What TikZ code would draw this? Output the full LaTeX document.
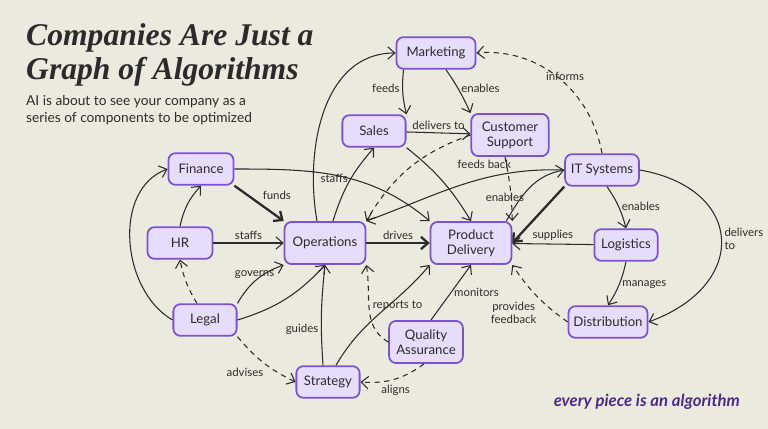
\documentclass[tikz,border=0pt]{standalone}
\usepackage{fontspec}
\setmainfont{Lato}
\newfontfamily\titlefont{Liberation Serif}
\usetikzlibrary{arrows.meta, positioning}
\definecolor{bg}{HTML}{EBEADF}
\definecolor{boxfill}{HTML}{E6DDFD}
\definecolor{boxline}{HTML}{7A52D4}
\definecolor{ink}{HTML}{2B2B2B}
\definecolor{tagline}{HTML}{4A2A8C}
\tikzset{%
	unit/.style={draw=boxline, fill=boxfill, line width=1pt, rectangle,
		rounded corners=4pt, inner sep=2pt, align=center, text=ink,
		font=\fontsize{7.5}{8.5}\selectfont, minimum height=18pt},
	flow/.style={-{Straight Barb[length=4pt,width=7pt]}, ink, line width=0.6pt},
	main/.style={flow, line width=1.3pt},
	soft/.style={flow, dashed, dash pattern=on 3pt off 2.5pt},
	lbl/.style={font=\fontsize{6.5}{7.3}\selectfont, text=ink, inner sep=1.5pt}
}
\begin{document}
\begin{tikzpicture}[x=0.02cm, y=-0.02cm]
	\useasboundingbox[fill=bg] (0,0) rectangle (768,429);

	% heading
	\node[anchor=west, font=\titlefont\bfseries\itshape\fontsize{18}{19.5}\selectfont, align=left, text=ink] (title) at (20,55)
		{Companies Are Just a\\Graph of Algorithms};
	\node[anchor=west, font=\fontsize{7.8}{9.8}\selectfont, align=left, text=ink] (sub) at (20,110)
		{AI is about to see your company as a\\series of components to be optimized};
	\node[anchor=east, font=\bfseries\itshape\fontsize{9.5}{10}\selectfont, text=tagline] (tag) at (746,402)
		{every piece is an algorithm};

	% units
	\node[unit, minimum width=45pt] (mkt) at (436,53) {Marketing};
	\node[unit, minimum width=36pt] (sales) at (374,131) {Sales};
	\node[unit, minimum width=44pt, minimum height=24pt] (cs) at (510,135) {Customer\\Support};
	\node[unit, minimum width=37pt] (fin) at (201,169) {Finance};
	\node[unit, minimum width=42pt] (it) at (602,170) {IT Systems};
	\node[unit, minimum width=37pt] (hr) at (180,243) {HR};
	\node[unit, minimum width=46pt, minimum height=24pt] (ops) at (325,243) {Operations};
	\node[unit, minimum width=46pt, minimum height=24pt] (pd) at (471,243) {Product\\Delivery};
	\node[unit, minimum width=36pt] (log) at (626,245) {Logistics};
	\node[unit, minimum width=36pt] (legal) at (205,320) {Legal};
	\node[unit, minimum width=45pt] (dist) at (608,322) {Distribution};
	\node[unit, minimum width=42pt, minimum height=24pt] (qa) at (426,342) {Quality\\Assurance};
	\node[unit, minimum width=36pt] (strat) at (328,382) {Strategy};

	% top cluster
	\draw[flow] (mkt.south west) ++(8,0) to[bend right=10] node[lbl, left, pos=0.4]{feeds} (sales.north east);
	\draw[flow] (mkt.south) ++(10,0) to[bend left=5] node[lbl, right, pos=0.45]{enables} (cs.north west);
	\draw[flow] (sales) -- node[lbl, above]{delivers to} (cs);
	\draw[flow] (sales.south east) to[bend left=10] node[lbl, right, pos=0.25, xshift=16pt]{feeds back} (pd.north);
	\draw[soft] (cs.west) to[bend right=20] (ops.north east);
	\draw[soft] (cs.south) ++(-5,0) to[bend left=5] (pd.north east);
	\draw[flow] (ops.north) ++(-8,0) to[out=100, in=180] (mkt.west);
	\draw[flow] (ops.north) ++(8,0) to[bend left=12] node[lbl, left, pos=0.55]{staffs} (sales.south);

	% left cluster
	\draw[main] (fin.south east) -- node[lbl, above right]{funds} (ops.north west);
	\draw[flow] (fin.east) to[out=0, in=140] (pd.north west);
	\draw[flow] (hr.north) to[bend left=15] (fin.south);
	\draw[flow] (hr) -- node[lbl, above]{staffs} (ops);
	\draw[flow] (legal.west) to[out=150, in=200] (fin.west);
	\draw[soft] (legal.north) ++(-8,0) to[bend left=10] (hr.south);
	\draw[flow] (legal.north east) to[bend left=20] node[lbl, above, pos=0.45]{governs} (ops.south west);
	\draw[flow] (legal.east) to[bend right=15] (ops.south);
	\draw[soft] (legal.south east) to[bend right=12] node[lbl, below left, pos=0.55]{advises} (strat.west);

	% lower cluster
	\draw[flow] (strat.north) ++(-5,0) to[bend left=5] node[lbl, left, pos=0.35]{guides} (ops.south);
	\draw[flow] (strat.north) ++(8,0) to[out=60, in=230] (pd.south west);
	\draw[soft] (qa.west) to[out=150, in=280] node[lbl, above right, pos=0.45]{reports to} (ops.south east);
	\draw[flow] (qa.north) ++(5,0) -- node[lbl, right]{monitors} (pd.south);
	\draw[soft] (qa.south) ++(-2,0) to[bend left=20] node[lbl, below right, pos=0.75]{aligns} (strat.east);
	\draw[main] (ops) -- node[lbl, above]{drives} (pd);

	% right cluster
	\draw[flow] (it.west) to[out=178, in=20] (ops.north east);
	\draw[flow] (pd.north east) ++(-6,0) to[out=60, in=190] node[lbl, below left, pos=0.45]{enables} (it.west);
	\draw[main] (it.south west) -- (pd.east);
	\draw[soft] (it.north) to[out=100, in=5] node[lbl, above, pos=0.45]{informs} (mkt.east);
	\draw[flow] (it.south) ++(5,0) to[bend left=10] node[lbl, right, pos=0.5]{enables} (log.north);
	\draw[flow] (it.east) to[out=-10, in=20, looseness=1.8] node[lbl, right, align=left, pos=0.5]{delivers\\to} (dist.east);
	\draw[flow] (log) -- node[lbl, above]{supplies} (pd);
	\draw[flow] (log.south) to[bend left=10] node[lbl, right]{manages} (dist.north);
	\draw[soft] (dist.west) to[bend left=10] node[lbl, below left, align=center, pos=0.45]{provides\\feedback} (pd.south east);
\end{tikzpicture}
\end{document}
